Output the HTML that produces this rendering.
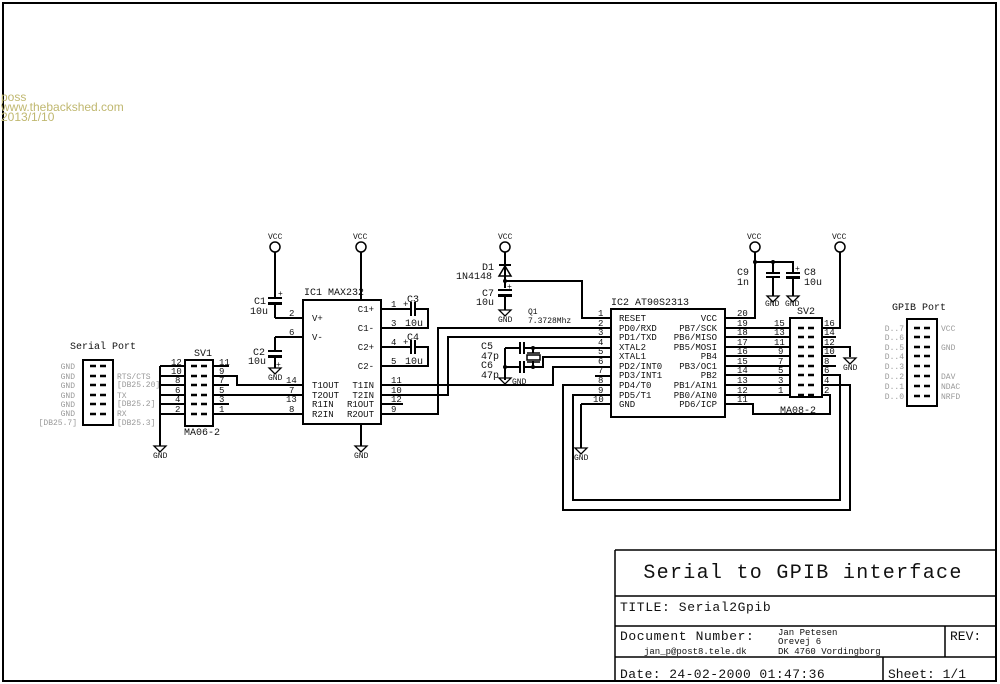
<!DOCTYPE html>
<html><head><meta charset="utf-8"><style>
html,body{margin:0;padding:0;background:#fff;width:1000px;height:684px;overflow:hidden}
svg{display:block}
text{font-family:"Liberation Mono",monospace;fill:#111}
.s{font-size:9px}
.g{font-size:8px;fill:#999}
.w{stroke:#000;stroke-width:2;fill:none}
.t{stroke:#000;stroke-width:1;fill:none}
</style></head><body>
<svg width="1000" height="684" viewBox="0 0 1000 684" xmlns="http://www.w3.org/2000/svg">
<defs>
<g id="gnd"><path d="M-6,0H6L0,6Z" stroke="#000" stroke-width="1.3" fill="none"/></g>
<g id="vcc"><circle cx="0" cy="0" r="5" stroke="#000" stroke-width="1.5" fill="#fff"/></g>
<g id="pr"><path d="M0,0h6M10,0h6" stroke="#000" stroke-width="2.5"/></g>
</defs>
<rect x="3" y="3" width="993" height="678" fill="none" stroke="#000" stroke-width="2"/>
<text x="1" y="101" style="fill:#c0b870;font-family:'Liberation Sans',sans-serif;font-size:12px">poss</text>
<text x="1" y="111" style="fill:#c0b870;font-family:'Liberation Sans',sans-serif;font-size:12px">www.thebackshed.com</text>
<text x="1" y="121" style="fill:#c0b870;font-family:'Liberation Sans',sans-serif;font-size:12px">2013/1/10</text>

<!-- Serial port -->
<text x="70" y="349" style="font-size:10px">Serial Port</text>
<rect x="83" y="360" width="30" height="65" class="w"/>
<g>
<use href="#pr" x="90" y="366"/><use href="#pr" x="90" y="376"/><use href="#pr" x="90" y="385"/>
<use href="#pr" x="90" y="395"/><use href="#pr" x="90" y="404"/><use href="#pr" x="90" y="414"/>
</g>
<g class="g" text-anchor="end">
<text x="75" y="369" class="g">GND</text><text x="75" y="379" class="g">GND</text><text x="75" y="388" class="g">GND</text>
<text x="75" y="398" class="g">GND</text><text x="75" y="407" class="g">GND</text><text x="75" y="416" class="g">GND</text>
<text x="77" y="425" class="g">[DB25.7]</text>
</g>
<text x="117" y="379" class="g">RTS/CTS</text><text x="117" y="387" class="g">[DB25.20]</text>
<text x="117" y="398" class="g">TX</text><text x="117" y="406" class="g">[DB25.2]</text>
<text x="117" y="416" class="g">RX</text><text x="117" y="425" class="g">[DB25.3]</text>

<!-- SV1 -->
<text x="194" y="356" class="s" style="font-size:10px">SV1</text>
<rect x="185" y="360" width="28" height="66" class="w"/>
<use href="#pr" x="191" y="366"/><use href="#pr" x="191" y="376"/><use href="#pr" x="191" y="385"/>
<use href="#pr" x="191" y="395"/><use href="#pr" x="191" y="404"/><use href="#pr" x="191" y="414"/>
<text x="184" y="435" style="font-size:10px">MA06-2</text>
<path class="w" d="M160,366H185M160,376H185M160,385H185M160,395H185M160,404H185M160,414H185M160,366V446"/>
<use href="#gnd" x="160" y="446"/><text x="153" y="458" class="s" style="font-size:8px">GND</text>
<g class="s"><text x="171" y="365">12</text><text x="171" y="374">10</text><text x="175" y="383">8</text>
<text x="175" y="393">6</text><text x="175" y="402">4</text><text x="175" y="412">2</text>
<text x="219" y="365">11</text><text x="219" y="374">9</text><text x="219" y="383">7</text>
<text x="219" y="393">5</text><text x="219" y="402">3</text><text x="219" y="412">1</text></g>
<path class="w" d="M213,366H229M213,376H237V385H303M213,385H229M213,395H303M213,404H229M213,414H303"/>

<!-- IC1 -->
<text x="304" y="295" style="font-size:10px">IC1 MAX232</text>
<rect x="303" y="300" width="78" height="124" class="w"/>
<g class="s"><text x="312" y="321">V+</text><text x="312" y="340">V-</text>
<text x="312" y="388">T1OUT</text><text x="312" y="398">T2OUT</text><text x="312" y="407">R1IN</text><text x="312" y="417">R2IN</text>
<text x="374" y="312" text-anchor="end">C1+</text><text x="374" y="331" text-anchor="end">C1-</text>
<text x="374" y="350" text-anchor="end">C2+</text><text x="374" y="369" text-anchor="end">C2-</text>
<text x="374" y="388" text-anchor="end">T1IN</text><text x="374" y="398" text-anchor="end">T2IN</text>
<text x="374" y="407" text-anchor="end">R1OUT</text><text x="374" y="417" text-anchor="end">R2OUT</text>
<text x="289" y="316">2</text><text x="289" y="335">6</text>
<text x="286" y="383">14</text><text x="289" y="393">7</text><text x="286" y="402">13</text><text x="289" y="412">8</text>
<text x="391" y="307">1</text><text x="391" y="326">3</text><text x="391" y="345">4</text><text x="391" y="364">5</text>
<text x="391" y="383">11</text><text x="391" y="393">10</text><text x="391" y="402">12</text><text x="391" y="412">9</text></g>
<path class="w" d="M275,318H303M275,337H303M381,385H403M381,395H448V337H611M381,404H403M381,414H438V328H611"/>
<use href="#vcc" x="361" y="247"/><text x="353" y="239" style="font-size:8px">VCC</text>
<path class="w" d="M361,252V300M361,424V446"/><use href="#gnd" x="361" y="446"/><text x="354" y="458" style="font-size:8px">GND</text>
<!-- C1 -->
<use href="#vcc" x="275" y="247"/><text x="268" y="239" style="font-size:8px">VCC</text>
<path class="w" d="M275,252V298M275,304V318"/>
<path d="M268,298H282" stroke="#000" stroke-width="2"/><rect x="268" y="302" width="14" height="3" fill="#000"/>
<text x="278" y="296" style="font-size:8px">+</text>
<text x="254" y="304" style="font-size:10px">C1</text><text x="250" y="314" style="font-size:10px">10u</text>
<!-- C2 -->
<path class="w" d="M275,337V351M275,357V368"/>
<path d="M268,351H282" stroke="#000" stroke-width="2"/><rect x="268" y="355" width="14" height="3" fill="#000"/>
<text x="276" y="367" style="font-size:8px">+</text>
<use href="#gnd" x="275" y="368"/><text x="268" y="380" style="font-size:8px">GND</text>
<text x="253" y="355" style="font-size:10px">C2</text><text x="248" y="364" style="font-size:10px">10u</text>
<!-- C3 C4 -->
<path class="w" d="M381,309H410M416,309H428V328H381M381,347H410M416,347H428V366H381"/>
<path d="M411,302V316M415,302V316M411,340V354M415,340V354" stroke="#000" stroke-width="2"/>
<text x="403" y="307" class="s">+</text><text x="403" y="345" class="s">+</text>
<text x="407" y="302" style="font-size:10px">C3</text><text x="405" y="326" style="font-size:10px">10u</text>
<text x="407" y="340" style="font-size:10px">C4</text><text x="405" y="364" style="font-size:10px">10u</text>

<!-- D1 / C7 -->
<use href="#vcc" x="505" y="247"/><text x="498" y="239" style="font-size:8px">VCC</text>
<path class="w" d="M505,252V300"/>
<path d="M499,276H511L505,266Z" fill="none" stroke="#000" stroke-width="1.5"/><path d="M499,265H511" stroke="#000" stroke-width="2"/>
<circle cx="505" cy="281" r="2" fill="#000"/>
<path class="w" d="M505,281H582V318H611"/>
<rect x="499" y="288" width="12" height="12" fill="#fff"/>
<path d="M498,290H512" stroke="#000" stroke-width="2"/><rect x="498" y="294" width="14" height="3" fill="#000"/>
<text x="507" y="289" style="font-size:8px">+</text>
<path class="w" d="M505,297V310"/><use href="#gnd" x="505" y="310"/><text x="498" y="322" style="font-size:8px">GND</text>
<text x="482" y="270" style="font-size:10px">D1</text><text x="456" y="279" style="font-size:10px">1N4148</text>
<text x="482" y="296" style="font-size:10px">C7</text><text x="476" y="305" style="font-size:10px">10u</text>

<!-- crystal -->
<text x="528" y="314" style="font-size:8px">Q1</text><text x="528" y="323" style="font-size:8px">7.3728Mhz</text>
<path class="w" d="M505,348H520M524,348H611M505,367H520M524,367H533M505,348V380"/>
<path d="M520,342V354M524,342V354M520,361V373M524,361V373" stroke="#000" stroke-width="2"/>
<path class="w" d="M533,348V353M533,361V367"/>
<rect x="527" y="355" width="13" height="5" fill="#fff" stroke="#000" stroke-width="1.5"/>
<path d="M527,353H540M527,362H540" stroke="#000" stroke-width="1.5"/>
<path class="w" d="M533,367H543V357H611M611,367H553V385H403"/>
<circle cx="533" cy="348" r="2" fill="#000"/><circle cx="533" cy="367" r="2" fill="#000"/><circle cx="505" cy="367" r="2" fill="#000"/>
<use href="#gnd" x="505" y="378"/><text x="512" y="384" style="font-size:8px">GND</text>
<text x="481" y="349" style="font-size:10px">C5</text><text x="481" y="359" style="font-size:10px">47p</text>
<text x="481" y="368" style="font-size:10px">C6</text><text x="481" y="378" style="font-size:10px">47p</text>

<!-- IC2 -->
<text x="611" y="305" style="font-size:10px">IC2 AT90S2313</text>
<rect x="611" y="309" width="114" height="108" class="w"/>
<g class="s"><text x="619" y="321">RESET</text><text x="619" y="331">PD0/RXD</text><text x="619" y="340">PD1/TXD</text>
<text x="619" y="350">XTAL2</text><text x="619" y="359">XTAL1</text><text x="619" y="369">PD2/INT0</text>
<text x="619" y="378">PD3/INT1</text><text x="619" y="388">PD4/T0</text><text x="619" y="398">PD5/T1</text><text x="619" y="407">GND</text>
<g text-anchor="end"><text x="717" y="321">VCC</text><text x="717" y="331">PB7/SCK</text><text x="717" y="340">PB6/MISO</text>
<text x="717" y="350">PB5/MOSI</text><text x="717" y="359">PB4</text><text x="717" y="369">PB3/OC1</text>
<text x="717" y="378">PB2</text><text x="717" y="388">PB1/AIN1</text><text x="717" y="398">PB0/AIN0</text><text x="717" y="407">PD6/ICP</text></g>
<text x="598" y="316">1</text><text x="598" y="326">2</text><text x="598" y="335">3</text><text x="598" y="345">4</text>
<text x="598" y="354">5</text><text x="598" y="364">6</text><text x="598" y="373">7</text><text x="598" y="383">8</text>
<text x="598" y="393">9</text><text x="593" y="402">10</text>
<text x="737" y="316">20</text><text x="737" y="326">19</text><text x="737" y="335">18</text><text x="737" y="345">17</text>
<text x="737" y="354">16</text><text x="737" y="364">15</text><text x="737" y="373">14</text><text x="737" y="383">13</text>
<text x="737" y="393">12</text><text x="737" y="402">11</text></g>
<path class="w" d="M595,376H611M581,404H611M581,404V448"/>
<use href="#gnd" x="581" y="448"/><text x="574" y="460" style="font-size:8px">GND</text>
<path class="w" d="M611,385H563V510H850V385H822M611,395H573V500H840V375H822"/>
<path class="w" d="M725,404H753V414H830V395H822"/>
<path class="w" d="M725,328H790M725,337H790M725,347H790M725,356H790M725,366H790M725,375H790M725,385H790M725,395H790"/>
<path class="w" d="M725,318H755V252"/>
<use href="#vcc" x="755" y="247"/><text x="747" y="239" style="font-size:8px">VCC</text>
<path class="w" d="M755,262H793V272M773,262V272M773,278V296M793,278V296"/>
<circle cx="755" cy="262" r="2" fill="#000"/><circle cx="773" cy="262" r="2" fill="#000"/>
<path d="M766,273H780M766,277H780M786,273H800" stroke="#000" stroke-width="2"/><rect x="786" y="276" width="14" height="3" fill="#000"/>
<text x="795" y="271" style="font-size:8px">+</text>
<use href="#gnd" x="773" y="296"/><use href="#gnd" x="793" y="296"/>
<text x="765" y="306" style="font-size:8px">GND</text><text x="785" y="306" style="font-size:8px">GND</text>
<text x="737" y="275" style="font-size:10px">C9</text><text x="737" y="285" style="font-size:10px">1n</text>
<text x="804" y="275" style="font-size:10px">C8</text><text x="804" y="285" style="font-size:10px">10u</text>

<!-- SV2 -->
<text x="797" y="314" style="font-size:10px">SV2</text>
<rect x="790" y="318" width="32" height="79" class="w"/>
<use href="#pr" x="798" y="328"/><use href="#pr" x="798" y="337"/><use href="#pr" x="798" y="347"/><use href="#pr" x="798" y="356"/>
<use href="#pr" x="798" y="366"/><use href="#pr" x="798" y="375"/><use href="#pr" x="798" y="385"/><use href="#pr" x="798" y="395"/>
<text x="780" y="413" style="font-size:10px">MA08-2</text>
<g class="s"><text x="774" y="326">15</text><text x="774" y="335">13</text><text x="774" y="345">11</text><text x="778" y="354">9</text>
<text x="778" y="364">7</text><text x="778" y="373">5</text><text x="778" y="383">3</text><text x="778" y="393">1</text>
<text x="824" y="326">16</text><text x="824" y="335">14</text><text x="824" y="345">12</text><text x="824" y="354">10</text>
<text x="824" y="364">8</text><text x="824" y="373">6</text><text x="824" y="383">4</text><text x="824" y="393">2</text></g>
<path class="w" d="M822,328H840V252M822,337H836M822,347H850V357M822,356H836M822,366H836"/>
<use href="#vcc" x="840" y="247"/><text x="832" y="239" style="font-size:8px">VCC</text>
<use href="#gnd" x="850" y="358"/><text x="843" y="370" style="font-size:8px">GND</text>

<!-- GPIB port -->
<text x="892" y="310" style="font-size:10px">GPIB Port</text>
<rect x="907" y="319" width="30" height="87" class="w"/>
<use href="#pr" x="914" y="328"/><use href="#pr" x="914" y="337"/><use href="#pr" x="914" y="347"/><use href="#pr" x="914" y="356"/>
<use href="#pr" x="914" y="366"/><use href="#pr" x="914" y="376"/><use href="#pr" x="914" y="386"/><use href="#pr" x="914" y="396"/>
<g text-anchor="end"><text x="904" y="331" class="g">D..7</text><text x="904" y="340" class="g">D..6</text><text x="904" y="350" class="g">D..5</text>
<text x="904" y="359" class="g">D..4</text><text x="904" y="369" class="g">D..3</text><text x="904" y="379" class="g">D..2</text>
<text x="904" y="389" class="g">D..1</text><text x="904" y="399" class="g">D..0</text></g>
<text x="941" y="331" class="g">VCC</text><text x="941" y="350" class="g">GND</text>
<text x="941" y="379" class="g">DAV</text><text x="941" y="389" class="g">NDAC</text><text x="941" y="399" class="g">NRFD</text>

<!-- title block -->
<path class="t" d="M615,550H996M615,550V682M615,596H996M615,626H996M615,657H996M945,626V657M883,657V682" style="stroke-width:1.5"/>
<text x="803" y="578" text-anchor="middle" style="font-size:20px;letter-spacing:1.3px">Serial to GPIB interface</text>
<text x="620" y="611" style="font-size:13px;letter-spacing:0.6px">TITLE:  Serial2Gpib</text>
<text x="620" y="640" style="font-size:13px;letter-spacing:0.6px">Document Number:</text>
<text x="644" y="654" style="font-size:9px">jan_p@post8.tele.dk</text>
<text x="778" y="635" style="font-size:9px">Jan Petesen</text>
<text x="778" y="644" style="font-size:9px">Orevej 6</text>
<text x="778" y="654" style="font-size:9px">DK 4760 Vordingborg</text>
<text x="950" y="640" style="font-size:13px">REV:</text>
<text x="620" y="678" style="font-size:13px;letter-spacing:0.4px">Date: 24-02-2000 01:47:36</text>
<text x="888" y="678" style="font-size:13px">Sheet: 1/1</text>
</svg>
</body></html>
